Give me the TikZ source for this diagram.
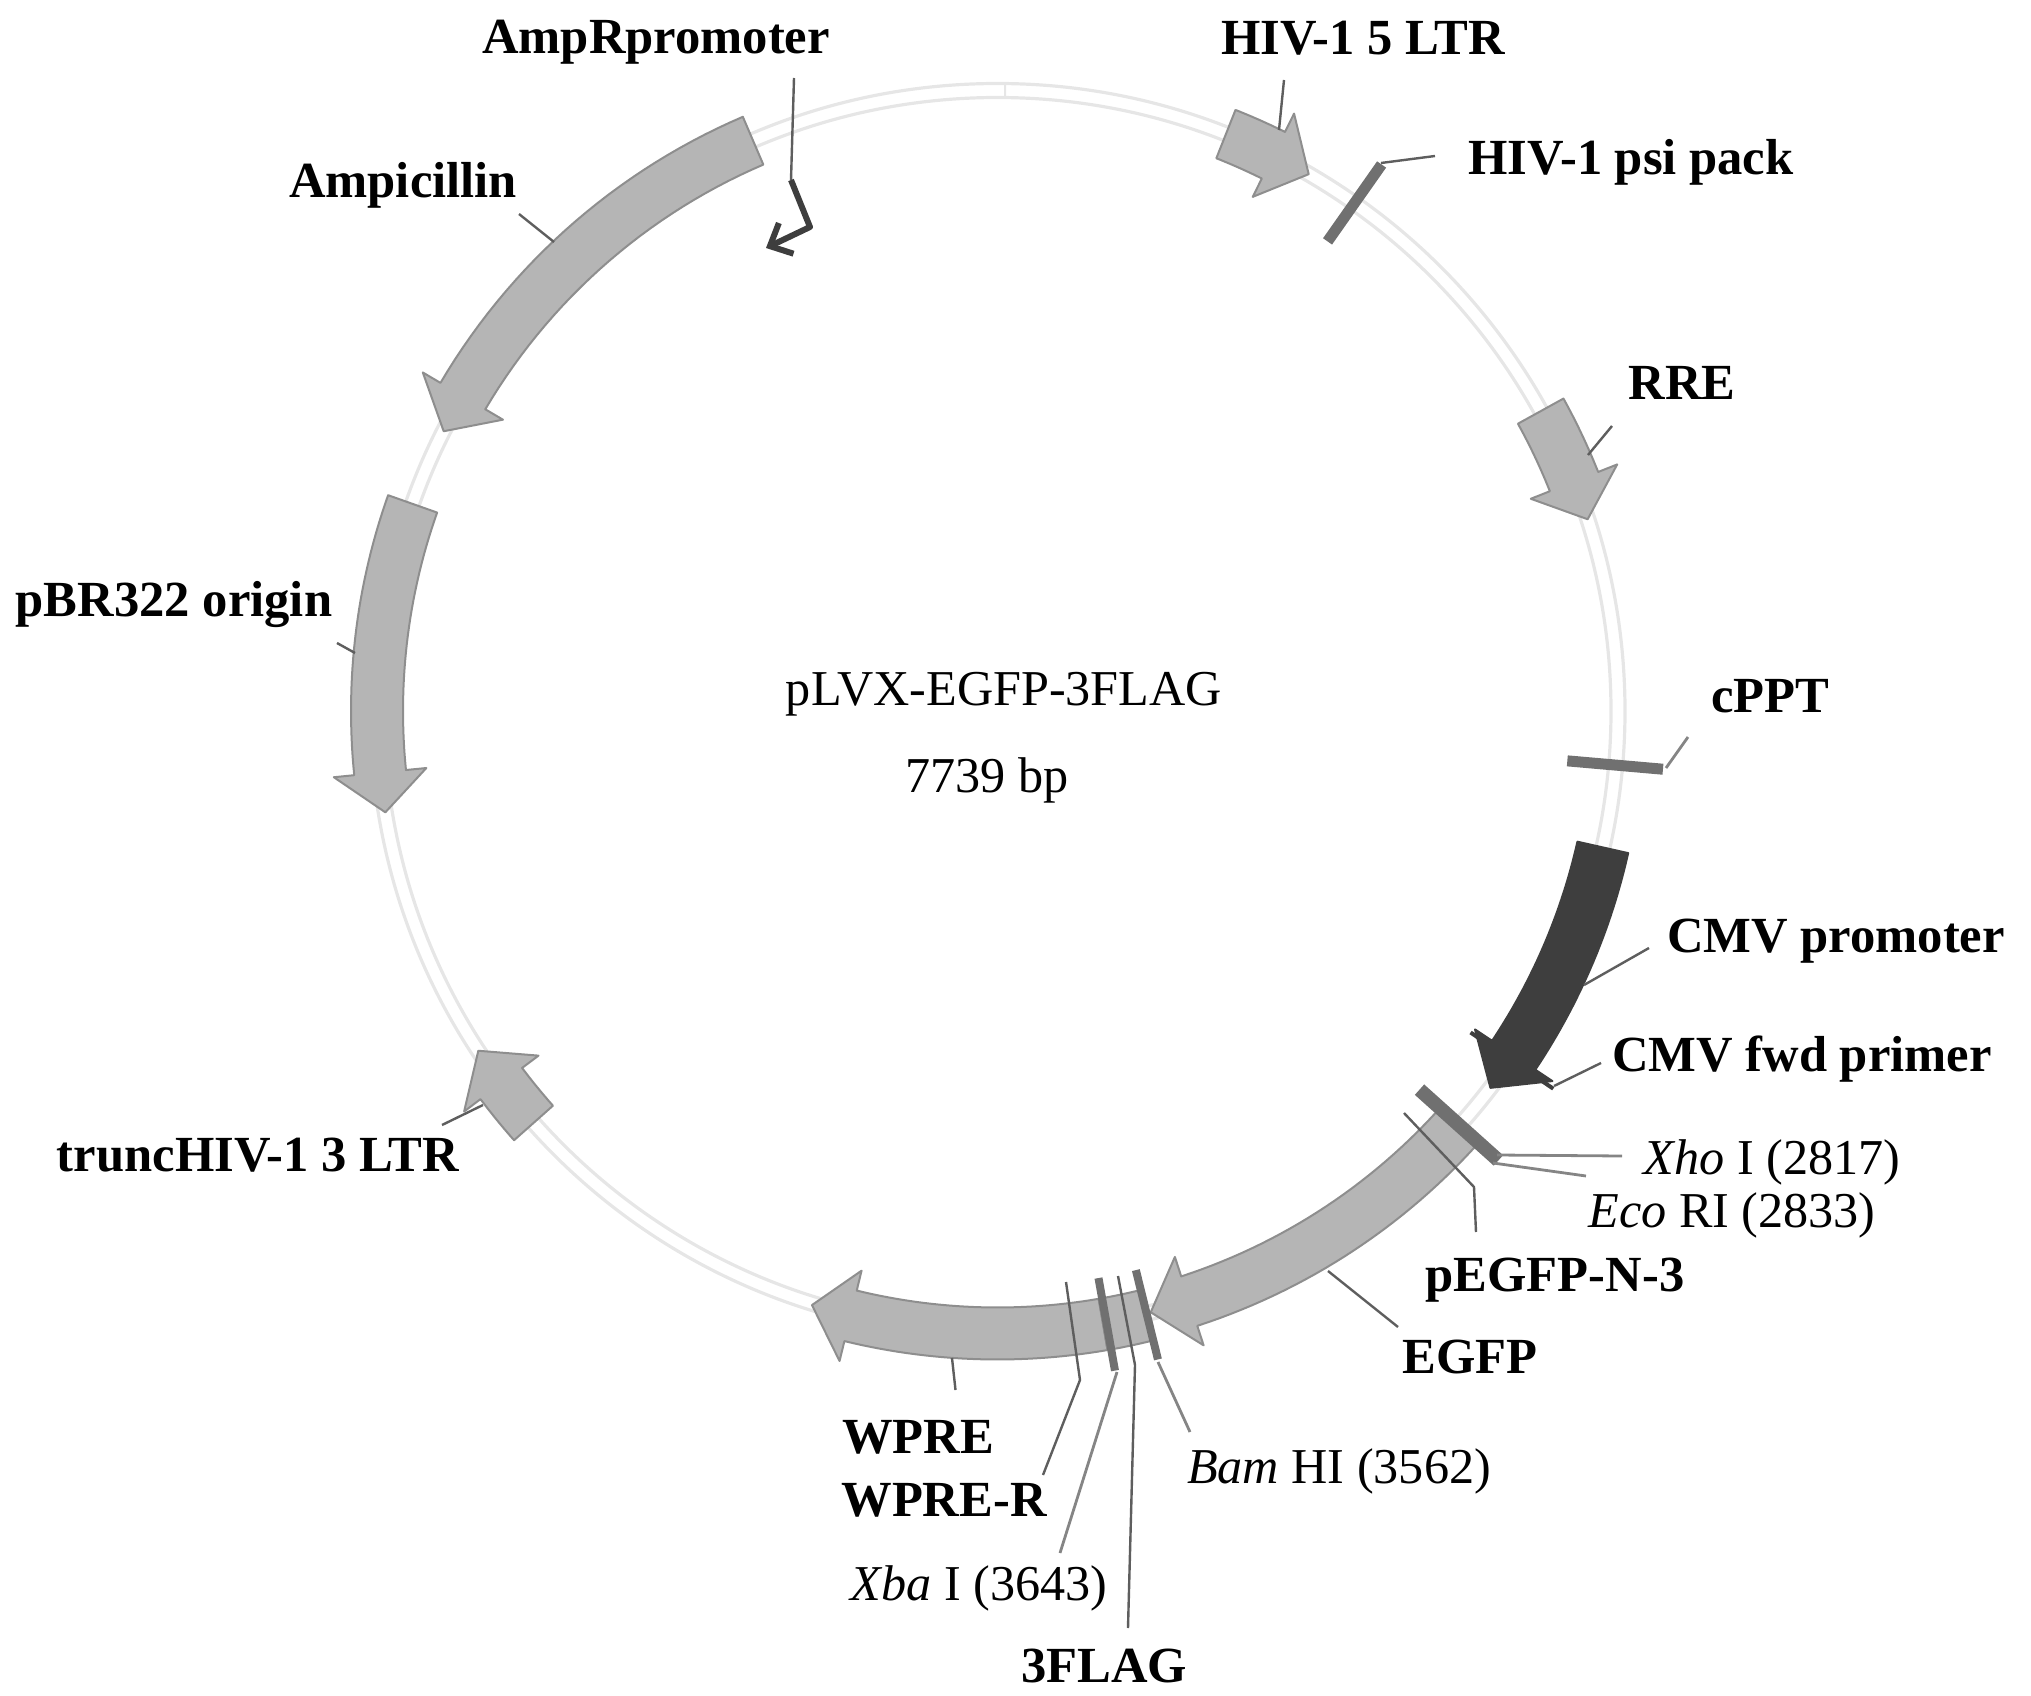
\documentclass[tikz,border=0pt]{standalone}
\usepackage{fontspec}
\setmainfont{Liberation Serif}
\usetikzlibrary{arrows.meta}
\definecolor{genefill}{HTML}{B5B5B5}
\definecolor{geneline}{HTML}{8E8E8E}
\definecolor{cmvfill}{HTML}{3E3E3E}
\definecolor{ringline}{HTML}{E6E6E6}
\definecolor{sitebar}{HTML}{707070}
\definecolor{leadline}{HTML}{5E5E5E}
\definecolor{siteline}{HTML}{858585}
\tikzset{
  genelabel/.style={font=\bfseries\fontsize{25.3}{30}\selectfont,anchor=base,inner sep=0pt},
  sitelabel/.style={font=\fontsize{25.1}{30}\selectfont,anchor=base,inner sep=0pt},
  gene/.style={draw=geneline,fill=genefill,line width=1pt,line join=round},
  ring/.style={draw=ringline,line width=1.6pt},
  sitemark/.style={draw=sitebar,line width=#1},
  leader/.style={draw=leadline,line width=1.2pt},
  siteleader/.style={draw=siteline,line width=1.4pt}
}
% arrow on the ring: base angle, tip angle, extra options
\newcommand{\genearrow}[3]{%
  \pgfmathsetmacro\neckangle{#2+3.7*sign(#1-#2)}
  \draw[gene,#3] plot[domain=#1:\neckangle,samples=30] (\x:646.5) -- (\neckangle:667)
    -- (#2:620.5) -- (\neckangle:574)
    -- plot[domain=\neckangle:#1,samples=30] (\x:594.5) -- cycle;
}
\begin{document}
\begin{tikzpicture}[x=0.5pt,y=-0.5pt]
  \useasboundingbox (0,0) rectangle (2031,1696);
  \begin{scope}[shift={(997.5,711)}]
    \draw[ring] (0,0) circle[radius=627.5];
    \draw[ring] (0,0) circle[radius=613.5];
    \draw[ringline,line width=1pt] (-89.3:614) -- (-89.3:627);
    \genearrow{246.8}{206.8}{}
    \genearrow{199.5}{170.6}{}
    \genearrow{-68.4}{-59.9}{}
    \genearrow{-28.9}{-18}{}
    \genearrow{138.4}{146.8}{}
    \genearrow{41.9}{75.7}{}
    \genearrow{80.2}{107.4}{yshift=-1pt}
    \draw[gene,yshift=-1pt] plot[domain=76.1:80.2,samples=8] (\x:646.5) -- plot[domain=80.2:76.1,samples=8] (\x:594.5) -- cycle;
    \genearrow{12.7}{37.4}{draw=cmvfill,fill=cmvfill}
    \draw[cmvfill,line width=2pt] (34.2:572) -- (34.2:672);
    \draw[sitemark=5.5pt] (-54.9:574) -- (-54.9:668);
    \draw[sitemark=5.5pt] (5:572) -- (5:668);
    \draw[sitemark=7pt] (41.9:567) -- (41.9:673);
    \draw[sitemark=4pt] (76.1:576) -- (76.1:668);
    \draw[sitemark=4pt] (79.9:576) -- (79.9:670);
  \end{scope}

  \node[genelabel] (amppromoter) at (656,54) {AmpRpromoter};
  \node[genelabel] (ltrfive) at (1363,55) {HIV-1 5 LTR};
  \node[genelabel] (psipack) at (1631,175) {HIV-1 psi pack};
  \node[genelabel] (ampicillin) at (403,198) {Ampicillin};
  \node[genelabel] (rre) at (1682,400) {RRE};
  \node[genelabel] (origin) at (174,616) {pBR322 origin};
  \node[sitelabel] (plasmid) at (1004,705) {pLVX-EGFP-3FLAG};
  \node[sitelabel] (size) at (987,792) {7739 bp};
  \node[genelabel] (cppt) at (1770,712) {cPPT};
  \node[genelabel] (cmv) at (1836,952) {CMV promoter};
  \node[genelabel] (primer) at (1802,1071) {CMV fwd primer};
  \node[sitelabel] (xho) at (1772,1174) {\textit{Xho} I (2817)};
  \node[sitelabel] (eco) at (1732,1227) {\textit{Eco} RI (2833)};
  \node[genelabel] (pegfp) at (1555,1291) {pEGFP-N-3};
  \node[genelabel] (egfp) at (1470,1373) {EGFP};
  \node[genelabel] (ltrthree) at (258,1171) {truncHIV-1 3 LTR};
  \node[genelabel] (wpre) at (918,1453) {WPRE};
  \node[genelabel] (wprer) at (944,1516) {WPRE-R};
  \node[sitelabel] (bam) at (1339,1483) {\textit{Bam} HI (3562)};
  \node[sitelabel] (xba) at (979,1600) {\textit{Xba} I (3643)};
  \node[genelabel] (flag) at (1104,1682) {3FLAG};

  \coordinate (kinkA) at (791,180);
  \coordinate (kinkB) at (810,227);
  \coordinate (promotertip) at (766,248);
  \coordinate (ltrend) at (1279,130);
  \coordinate (psiend) at (1381,163);
  \coordinate (ampend) at (554,242);
  \coordinate (rreend) at (1588,455);
  \coordinate (originend) at (355,653);
  \coordinate (cpptend) at (1666,768);
  \coordinate (cmvend) at (1584,985);
  \coordinate (primerend) at (1554,1086);
  \coordinate (xhoend) at (1497,1155);
  \coordinate (ecoend) at (1493,1163);
  \coordinate (pegfpA) at (1404,1113);
  \coordinate (pegfpB) at (1474,1187);
  \coordinate (egfpend) at (1328,1271);
  \coordinate (ltrthreeend) at (483,1105);
  \coordinate (wpreend) at (952,1358);
  \coordinate (wprerA) at (1066,1282);
  \coordinate (wprerB) at (1080,1380);
  \coordinate (bamend) at (1158,1362);
  \coordinate (xbaend) at (1117,1372);
  \coordinate (flagA) at (1118,1276);
  \coordinate (flagB) at (1135,1365);

  \draw[leader] ([shift={(138,24)}]amppromoter.base) -- (kinkA);
  \draw[cmvfill,line width=3pt,line join=round,-{Straight Barb[length=9pt,width=17pt]}] (kinkA) -- (kinkB) -- (promotertip);
  \draw[leader] ([shift={(-79,25)}]ltrfive.base) -- (ltrend);
  \draw[leader] ([shift={(-196,-19)}]psipack.base) -- (psiend);
  \draw[leader] ([shift={(116,16)}]ampicillin.base) -- (ampend);
  \draw[leader] ([shift={(-70,26)}]rre.base) -- (rreend);
  \draw[leader] ([shift={(163,27)}]origin.base) -- (originend);
  \draw[siteleader] ([shift={(-82,25)}]cppt.base) -- (cpptend);
  \draw[leader] ([shift={(-187,-4)}]cmv.base) -- (cmvend);
  \draw[leader] ([shift={(-201,-8)}]primer.base) -- (primerend);
  \draw[siteleader] ([shift={(-150,-18)}]xho.base) -- (xhoend);
  \draw[siteleader] ([shift={(-146,-51)}]eco.base) -- (ecoend);
  \draw[leader] ([shift={(-79,-59)}]pegfp.base) -- (pegfpB) -- (pegfpA);
  \draw[leader] ([shift={(-72,-46)}]egfp.base) -- (egfpend);
  \draw[leader] ([shift={(184,-46)}]ltrthree.base) -- (ltrthreeend);
  \draw[leader] ([shift={(37.5,-63)}]wpre.base) -- (wpreend);
  \draw[leader] ([shift={(99,-41)}]wprer.base) -- (wprerB) -- (wprerA);
  \draw[siteleader] ([shift={(-149,-51)}]bam.base) -- (bamend);
  \draw[siteleader] ([shift={(81,-47)}]xba.base) -- (xbaend);
  \draw[leader] ([shift={(24,-54)}]flag.base) -- (flagB) -- (flagA);
\end{tikzpicture}
\end{document}
